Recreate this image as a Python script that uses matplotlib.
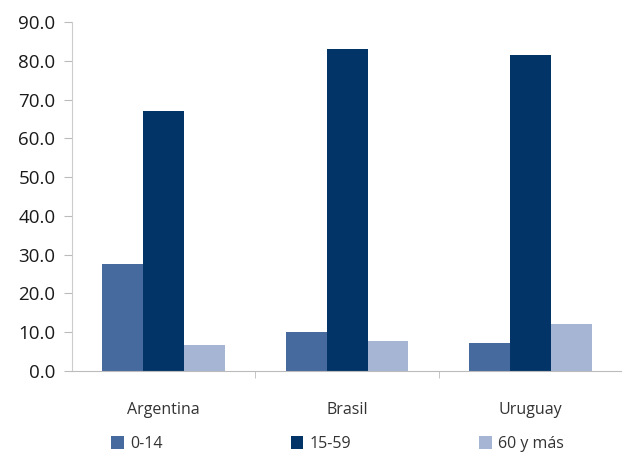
import numpy as np
import matplotlib.pyplot as plt

# datos
paises = ['Argentina', 'Brasil', 'Uruguay']
grupos = ['0-14', '15-59', '60 y más']
v_0_14 = [27.6, 10.1, 7.1]
v_15_59 = [67.0, 83.1, 81.6]
v_60 = [6.7, 7.7, 12.0]
colores = ['#46699e', '#023468', '#a6b5d3']

plt.rcParams['font.family'] = ['Open Sans', 'DejaVu Sans']

fig = plt.figure(figsize=(6.22, 4.53), dpi=100)
ax = fig.add_axes([0.116, 0.181, 0.884, 0.77])

x = np.arange(len(paises))
w = 0.223
for i, (vals, nombre) in enumerate(zip([v_0_14, v_15_59, v_60], grupos)):
    ax.bar(x + (i - 1) * w, vals, w, color=colores[i], label=nombre)

ax.set_xlim(-0.5, 2.5)
ax.set_ylim(0, 90)
ax.set_yticks(np.arange(0, 91, 10))
ax.set_yticklabels([f'{v:.1f}' for v in np.arange(0, 91, 10)], fontsize=13.5, color='#1a1a1a')
ax.set_xticks(x)
ax.set_xticklabels(paises, fontsize=11.5, color='#333333')
ax.tick_params(axis='x', length=0, pad=22)
ax.tick_params(axis='y', length=6, color='#bbbbbb', pad=6)
ax.set_xticks([0.5, 1.5], minor=True)
ax.tick_params(axis='x', which='minor', length=5, color='#bbbbbb')

for s in ['top', 'right']:
    ax.spines[s].set_visible(False)
ax.spines['left'].set_color('#cccccc')
ax.spines['bottom'].set_color('#bbbbbb')

ax.legend(loc='upper left', bbox_to_anchor=(0.045, -0.145), ncol=3, frameon=False,
          fontsize=11.5, handlelength=0.8, handleheight=0.8, handletextpad=0.4,
          columnspacing=8.0, labelcolor='#333333')

fig.savefig('out.png', dpi=100)
